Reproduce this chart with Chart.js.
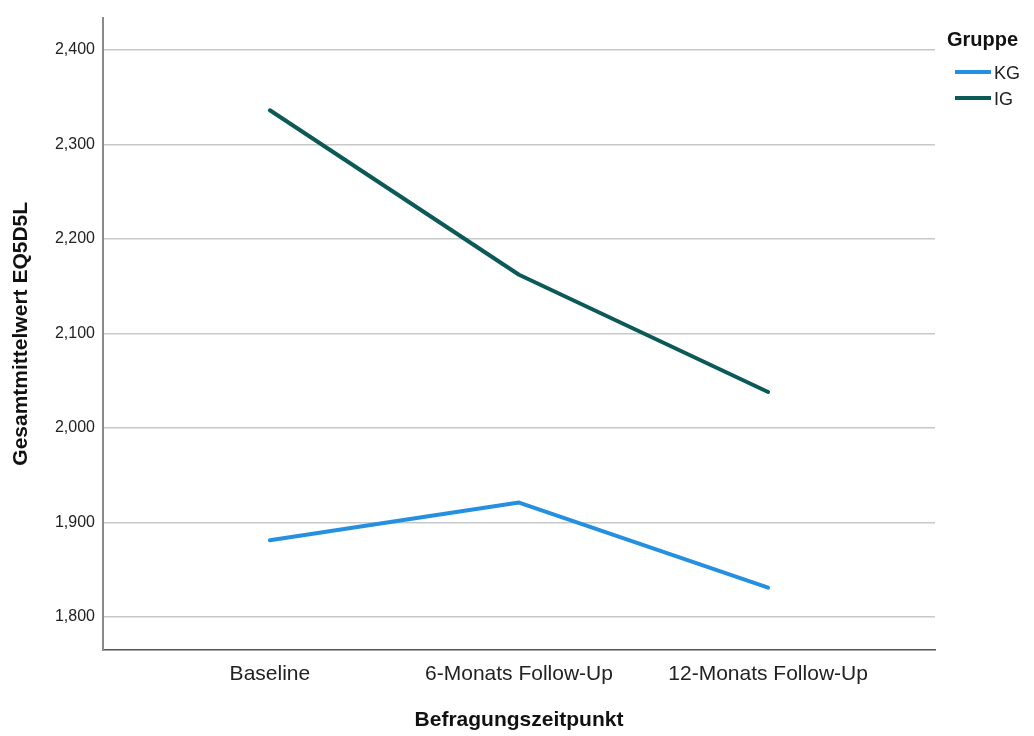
<!DOCTYPE html>
<html>
<head>
<meta charset="utf-8">
<script src="https://cdn.jsdelivr.net/npm/chart.js@4/dist/chart.umd.min.js"></script>
<style>
  html, body { margin: 0; padding: 0; background: #fff; }
  #wrap { width: 1034px; height: 736px; }
</style>
</head>
<body>
<div id="wrap"><canvas id="lineChart"></canvas></div>
<script>
const categories = ['Baseline', '6-Monats Follow-Up', '12-Monats Follow-Up'];
const groupLabels = ['KG', 'IG'];
const kgValues = [1.881, 1.921, 1.831];
const igValues = [2.336, 2.162, 2.038];
const yTicks = [1.8, 1.9, 2.0, 2.1, 2.2, 2.3, 2.4];

const FONT = "'Liberation Sans', Arial, sans-serif";
const kgColor = '#2690e0';
const igColor = '#0b5a57';

const toPoints = values => values.map((v, i) => ({ x: i, y: v }));

// legend drawn by hand so it sits where the SPSS one does
const groupLegend = {
  id: 'groupLegend',
  afterDraw(chart) {
    const ctx = chart.ctx;
    ctx.save();
    ctx.fillStyle = '#111';
    ctx.font = 'bold 20px ' + FONT;
    ctx.textBaseline = 'middle';
    ctx.textAlign = 'left';
    ctx.fillText('Gruppe', 947, 40);
    chart.data.datasets.forEach((ds, i) => {
      const y = 72 + i * 26;
      ctx.strokeStyle = ds.borderColor;
      ctx.lineWidth = 4;
      ctx.beginPath();
      ctx.moveTo(955, y);
      ctx.lineTo(991, y);
      ctx.stroke();
      ctx.fillStyle = '#222';
      ctx.font = '18px ' + FONT;
      ctx.fillText(ds.label, 994, y + 2);
    });
    ctx.restore();
  }
};

const ctx = document.getElementById('lineChart').getContext('2d');
const lineChart = new Chart(ctx, {
  type: 'line',
  data: {
    datasets: [
      { label: groupLabels[0], data: toPoints(kgValues), borderColor: kgColor, backgroundColor: kgColor },
      { label: groupLabels[1], data: toPoints(igValues), borderColor: igColor, backgroundColor: igColor }
    ]
  },
  options: {
    responsive: true,
    maintainAspectRatio: false,
    animation: false,
    layout: { padding: { top: 15, right: 99, left: 0, bottom: 0 } },
    elements: {
      line: { borderWidth: 4, tension: 0, borderCapStyle: 'round', borderJoinStyle: 'round' },
      point: { radius: 0, hoverRadius: 0 }
    },
    plugins: {
      legend: { display: false },
      tooltip: { enabled: false }
    },
    scales: {
      x: {
        type: 'linear',
        min: -0.67,
        max: 2.67,
        afterBuildTicks: scale => { scale.ticks = categories.map((c, i) => ({ value: i })); },
        afterFit: scale => { scale.height = 86; },
        grid: { display: false, drawTicks: false, tickLength: 0 },
        border: { display: true, color: '#555', width: 1.5 },
        ticks: {
          padding: 12,
          color: '#222',
          font: { family: FONT, size: 21 },
          maxRotation: 0,
          callback: v => categories[v]
        },
        title: {
          display: true,
          text: 'Befragungszeitpunkt',
          color: '#111',
          font: { family: FONT, size: 21, weight: 'bold' },
          padding: { top: 0, bottom: 3 }
        }
      },
      y: {
        type: 'linear',
        min: 1.765,
        max: 2.434,
        afterBuildTicks: scale => { scale.ticks = yTicks.map(v => ({ value: v })); },
        afterFit: scale => { scale.width = 103; },
        grid: { color: '#c8c8c8', lineWidth: 1.5, drawTicks: false, tickLength: 0 },
        border: { display: true, color: '#8a8a8a', width: 2 },
        ticks: {
          padding: 8,
          color: '#222',
          font: { family: FONT, size: 16 },
          callback: v => v.toFixed(3).replace('.', ',')
        },
        title: {
          display: true,
          text: 'Gesamtmittelwert EQ5D5L',
          color: '#111',
          font: { family: FONT, size: 21, weight: 'bold' },
          padding: { top: 9, bottom: 0 }
        }
      }
    }
  },
  plugins: [groupLegend]
});
</script>
</body>
</html>
